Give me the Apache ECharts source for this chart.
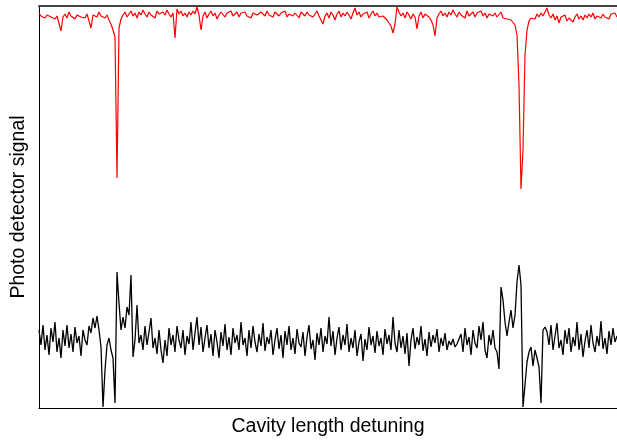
<!DOCTYPE html>
<html>
<head>
<meta charset="utf-8">
<script src="https://cdn.jsdelivr.net/npm/echarts@6/dist/echarts.min.js"></script>
<style>
  html, body { margin: 0; padding: 0; background: #fff; }
  #chart { width: 617px; height: 444px; }
</style>
</head>
<body>
<div id="chart"></div>
<script>
// Cavity scan: transmitted (red) and error (black) photo detector signals, arbitrary units
const transmission = [
  395, 392, 394, 390, 393, 395, 391, 393, 389, 392, 394,
  377, 391,
  394, 390, 396, 392, 394, 389, 393, 395, 391, 393, 390, 394, 392,
  380,
  393, 395, 391, 396, 392, 394, 390, 393,
  388, 384, 378, 371, 230, 380, 389,
  393, 396, 391, 394, 397, 392, 395, 390, 396, 393, 398, 394, 391, 396, 393, 395, 390, 397, 394, 392, 396, 393, 398, 394, 391, 395,
  370, 399,
  394, 397, 392, 395, 391, 396, 393, 397, 394,
  401, 393, 378,
  392, 396, 390, 394, 397, 392, 395, 389, 393, 396,
  394, 391, 395, 393, 397, 392, 394, 396, 391, 395,
  393, 396, 392, 394, 390, 395, 397, 393, 391, 396,
  394, 392, 397, 393, 395, 391, 396, 394, 392, 395,
  393, 397, 391, 394, 396, 392, 395, 393, 390, 396,
  394, 392, 396, 393, 395, 391, 394, 397, 392, 393,
  384,
  392, 395, 390, 396, 393, 388, 394, 397, 391, 395,
  392, 396, 393, 389, 395, 400, 393, 396, 391, 394,
  392, 396, 390, 394, 397, 392, 395, 391, 393, 392,
  390, 388, 386, 382, 375, 384, 401, 396,
  392, 395, 390, 396, 393, 389, 394, 391,
  379,
  392, 396, 390, 394, 395, 391, 388,
  383, 372, 390,
  394, 397, 392, 395, 391, 396, 393, 398, 394, 391,
  396, 393, 395, 390, 397, 392, 394, 396, 391, 395,
  393, 397, 392, 395, 390, 394, 396, 392, 395, 391,
  393, 396, 390, 392, 389, 391, 388,
  387, 383, 373, 323, 219, 258, 353, 378, 387, 390,
  392, 389, 394, 391, 395, 392, 396,
  400,
  393, 390, 394, 388, 392, 385, 391, 389, 393, 387,
  390, 392, 386, 391, 394, 389, 392, 388, 393, 390,
  394, 391, 395, 389, 392, 393, 390, 394, 391, 393,
  389, 394, 392, 395, 391
];

const errorSignal = [
  78, 63, 83, 58, 73, 53, 80, 66, 86, 56, 70, 50, 78, 62, 83, 60, 74, 56, 81, 65, 72, 52, 78, 68, 63, 82,
  75, 90, 80, 92, 78,
  61, 1, 38, 63, 70, 58, 50, 5, 136, 105, 78, 91, 80, 101, 93, 133, 51, 68, 103, 65,
  73, 58, 82, 63, 76, 90, 60, 70, 54, 78,
  58, 45, 68, 52, 80, 63, 73, 56, 82, 68,
  60, 78, 53, 72, 64, 86, 58, 75, 91, 63,
  81, 56, 70, 83, 60, 74, 52, 78, 66, 50,
  76, 62, 84, 58, 71, 53, 80, 65, 73, 58,
  86, 63, 70, 52, 78, 60, 82, 66, 56, 74,
  62, 85, 57, 71, 64, 78, 53, 68, 80, 59,
  73, 50, 77, 63, 82, 58, 70, 54, 79, 65,
  61, 76, 52, 71, 83, 59, 68, 48, 75, 63,
  80, 56, 72, 64, 91, 62, 77, 53, 70, 81,
  58, 73, 63, 84, 56, 70, 60, 78, 52, 66,
  74, 47, 69, 58, 81, 63, 72, 55, 77, 62,
  70, 53, 79, 64, 73, 58, 91, 65, 56, 78,
  60, 72, 54, 75, 42, 68, 80, 59, 71, 63,
  82, 57, 69, 52, 76, 61, 73, 65, 79, 56,
  70, 62, 75, 58, 67, 63, 69, 61, 64, 66,
  74, 56, 80, 63, 71, 53, 78, 65, 60, 82,
  68, 86, 58, 50, 73, 63, 78, 60,
  56, 39, 121, 108, 86, 72, 86, 98, 80, 93, 126, 143, 123, 1, 23, 46, 56, 61, 42, 58, 50, 41, 5, 78, 81,
  76, 63, 83, 58, 72, 85, 60, 68, 53, 78,
  64, 80, 56, 71, 62, 86, 58, 74, 51, 67,
  78, 60, 83, 65, 56, 72, 62, 87, 59, 70,
  54, 77, 63, 80, 66, 72
];

const xName = 'Cavity length detuning';
const yName = 'Photo detector signal';

const toPairs = arr => arr.map((v, i) => [i, v]);

const chart = echarts.init(document.getElementById('chart'), null, { renderer: 'canvas' });

const nameFont = { fontFamily: 'Liberation Sans, Arial, sans-serif', fontSize: 19.5, color: '#000' };

chart.setOption({
  animation: false,
  backgroundColor: '#ffffff',
  grid: { left: 39, right: 0, top: 6, bottom: 36, containLabel: false },
  xAxis: [
    {
      type: 'value',
      min: 0,
      max: transmission.length - 1,
      name: xName,
      nameLocation: 'middle',
      nameGap: 9,
      nameTextStyle: nameFont,
      axisLine: { show: true, onZero: false, lineStyle: { color: '#000', width: 1 } },
      axisTick: { show: false },
      axisLabel: { show: false },
      splitLine: { show: false }
    },
    {
      type: 'value',
      position: 'top',
      min: 0,
      max: transmission.length - 1,
      axisLine: { show: true, onZero: false, lineStyle: { color: '#444', width: 2 } },
      axisTick: { show: false },
      axisLabel: { show: false },
      splitLine: { show: false }
    }
  ],
  yAxis: {
    type: 'value',
    min: 0,
    max: 402,
    name: yName,
    nameLocation: 'middle',
    nameGap: 10,
    nameTextStyle: nameFont,
    axisLine: { show: true, onZero: false, lineStyle: { color: '#000', width: 1 } },
    axisTick: { show: false },
    axisLabel: { show: false },
    splitLine: { show: false }
  },
  series: [
    {
      name: 'transmission',
      type: 'line',
      data: toPairs(transmission),
      showSymbol: false,
      lineStyle: { color: '#ff0000', width: 1.2 },
      silent: true
    },
    {
      name: 'error',
      type: 'line',
      data: toPairs(errorSignal),
      showSymbol: false,
      lineStyle: { color: '#000000', width: 1.3 },
      silent: true
    }
  ]
});
</script>
</body>
</html>
